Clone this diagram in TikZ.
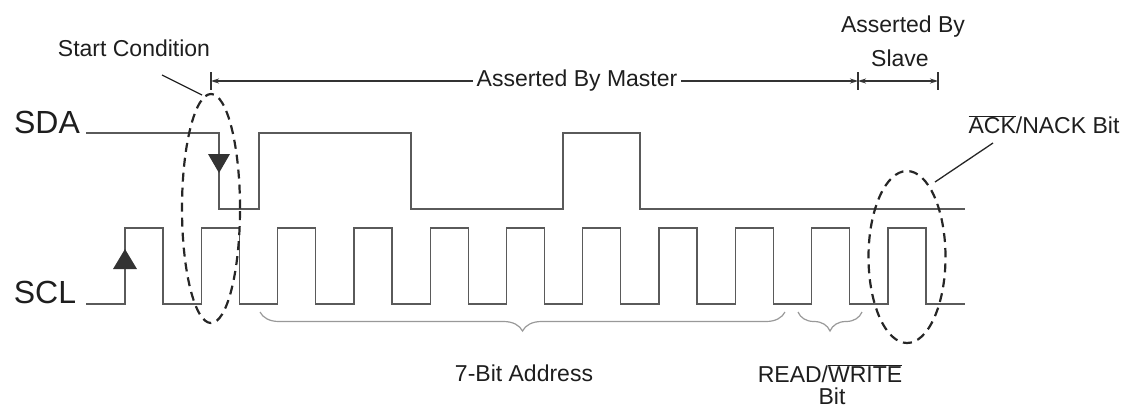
\documentclass[tikz,border=0pt]{standalone}
\usepackage{fontspec}
\setmainfont{Liberation Sans}
\usetikzlibrary{arrows.meta,shapes.geometric,decorations.pathreplacing}
\definecolor{sigc}{HTML}{5A5A5A}
\definecolor{txtc}{HTML}{1E1E1E}
\begin{document}
\begin{tikzpicture}[x=1pt,y=-1pt,
  sig/.style={draw=sigc,line width=1.3pt,line join=miter},
  lbl/.style={text=txtc,font=\fontsize{23}{27}\selectfont,inner sep=0pt},
  biglbl/.style={text=txtc,font=\fontsize{32}{36}\selectfont,inner sep=0pt},
  dashell/.style={draw=black!85,dashed,dash pattern=on 9pt off 6pt,line width=2.2pt,ellipse,inner sep=0pt},
  dim/.style={draw=black!80,line width=1.3pt},
  tip/.style={-{Stealth[length=8pt,width=5pt]}},
  brc/.style={draw=black!40,line width=1.2pt,decorate,decoration={brace,amplitude=19pt,mirror}},
  lead/.style={draw=black!85,line width=1.3pt},
  tri/.style={fill=black!80,draw=none}]
\useasboundingbox (0,0) rectangle (1132,408);
% labels
\node[biglbl] (sda) at (47,122) {SDA};
\node[biglbl] (scl) at (45,292) {SCL};
% SDA waveform
\draw[sig] (86,133) -- (219,133) -- (219,209) -- (259,209) -- (259,133) -- (411,133) -- (411,209)
  -- (563,209) -- (563,133) -- (640,133) -- (640,209) -- (965,209);
% SCL waveform
\draw[sig] (86,304) foreach \k in {0,...,10} { -- ({125+76.3*\k},304) -- ({125+76.3*\k},228)
  -- ({163+76.3*\k},228) -- ({163+76.3*\k},304) } -- (965,304);
% edge triangles
\fill[tri] (208,154) -- (230,154) -- (219,173) -- cycle;
\fill[tri] (113,269) -- (137,269) -- (125,249) -- cycle;
% dashed ellipses
\node[dashell,minimum width=58pt,minimum height=229pt] (startell) at (211,208.5) {};
\node[dashell,minimum width=77pt,minimum height=172pt] (ackell) at (907,257) {};
% start condition
\node[lbl] (startlbl) at (134,48) {Start Condition};
\coordinate (sl1) at (162,75);
\coordinate (sl2) at (202,95);
\draw[lead] (sl1) -- (sl2);
% ack label
\node[lbl] (acklbl) at (1044,125) {$\overline{\hbox{ACK}}$/NACK Bit};
\coordinate (al1) at (993,143);
\coordinate (al2) at (935,182);
\draw[lead] (al1) -- (al2);
% dimension lines
\coordinate (m0) at (211,81);
\coordinate (m1) at (858,81);
\coordinate (m2) at (938,81);
\draw[dim] (211,72) -- (211,90);
\draw[dim] (858,72) -- (858,90);
\draw[dim] (938,72) -- (938,90);
\draw[dim,tip] (477,81) -- (m0);
\draw[dim,tip] (677,81) -- (m1);
\node[lbl,fill=white,inner xsep=4pt] (master) at (577,81) {Asserted By Master};
\draw[dim,{Stealth[length=8pt,width=5pt]}-{Stealth[length=8pt,width=5pt]}] (m1) -- (m2);
\node[lbl] (slave1) at (903,27) {Asserted By};
\node[lbl] (slave2) at (900,58) {Slave};
% braces
\draw[brc] (260,312) -- (785,312);
\draw[brc] (798,312) -- (862,312);
\node[lbl] (addr) at (524,373) {7-Bit Address};
\node[lbl] (rw) at (830,374) {READ/$\overline{\hbox{WRITE}}$};
\node[lbl] (rwbit) at (832,396) {Bit};
\end{tikzpicture}
\end{document}
